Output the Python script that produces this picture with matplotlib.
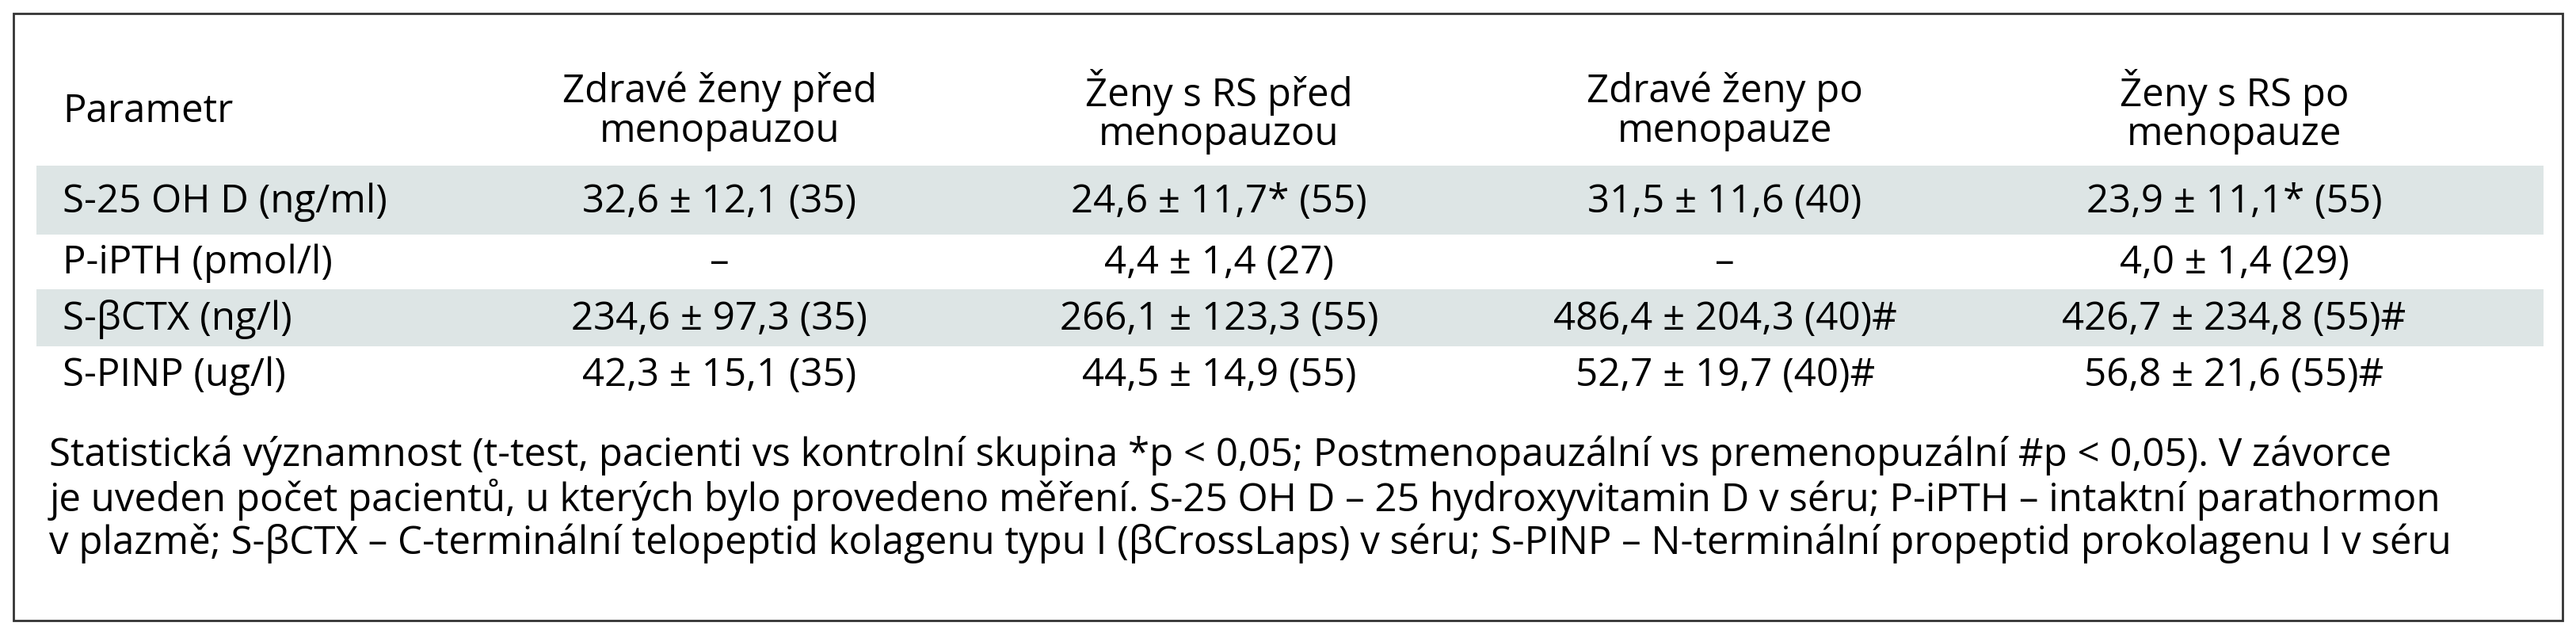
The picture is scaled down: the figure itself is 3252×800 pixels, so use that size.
import matplotlib.pyplot as plt
from matplotlib.patches import Rectangle

plt.rcParams['font.family'] = ['Open Sans', 'DejaVu Sans']

headers = ["Parametr", "Zdravé ženy před\nmenopauzou", "Ženy s RS před\nmenopauzou",
           "Zdravé ženy po\nmenopauze", "Ženy s RS po\nmenopauze"]
params = ["S-25 OH D (ng/ml)", "P-iPTH (pmol/l)", "S-βCTX (ng/l)", "S-PINP (ug/l)"]
healthy_pre = ["32,6 ± 12,1 (35)", "–", "234,6 ± 97,3 (35)", "42,3 ± 15,1 (35)"]
rs_pre = ["24,6 ± 11,7* (55)", "4,4 ± 1,4 (27)", "266,1 ± 123,3 (55)", "44,5 ± 14,9 (55)"]
healthy_post = ["31,5 ± 11,6 (40)", "–", "486,4 ± 204,3 (40)#", "52,7 ± 19,7 (40)#"]
rs_post = ["23,9 ± 11,1* (55)", "4,0 ± 1,4 (29)", "426,7 ± 234,8 (55)#", "56,8 ± 21,6 (55)#"]
footnote = ("Statistická významnost (t-test, pacienti vs kontrolní skupina *p < 0,05; Postmenopauzální vs premenopuzální #p < 0,05). V závorce\n"
            "je uveden počet pacientů, u kterých bylo provedeno měření. S-25 OH D – 25 hydroxyvitamin D v séru; P-iPTH – intaktní parathormon\n"
            "v plazmě; S-βCTX – C-terminální telopeptid kolagenu typu I (βCrossLaps) v séru; S-PINP – N-terminální propeptid prokolagenu I v séru")

W, H = 1568, 386
fig = plt.figure(figsize=(32.52, 8.0), dpi=100)
ax = fig.add_axes([0, 0, 1, 1])
ax.set_xlim(0, W)
ax.set_ylim(H, 0)
ax.axis('off')

ax.add_patch(Rectangle((8, 8), 1552, 370, fill=False, ec='#333333', lw=2))

fs = 35.5
col_x = [438, 742, 1050, 1360]
ax.text(38, 68, headers[0], fontsize=fs, va='center', ha='left')
for x, h in zip(col_x, headers[1:]):
    ax.text(x, 68, h, fontsize=fs, va='center', ha='center', linespacing=1.0)

row_top = [101, 143, 176, 211]
row_h = [42, 33, 35, 34]
cols = [healthy_pre, rs_pre, healthy_post, rs_post]
for i, p in enumerate(params):
    if i % 2 == 0:
        ax.add_patch(Rectangle((22, row_top[i]), 1526, row_h[i], color='#dde5e5', lw=0))
    yc = row_top[i] + row_h[i] / 2 + 1
    ax.text(38, yc, p, fontsize=fs, va='center', ha='left')
    for x, c in zip(col_x, cols):
        ax.text(x, yc, c[i], fontsize=fs, va='center', ha='center')

ax.text(30, 304, footnote, fontsize=fs, va='center', ha='left', linespacing=1.1)

fig.savefig('out.png', dpi=100, facecolor='white')
